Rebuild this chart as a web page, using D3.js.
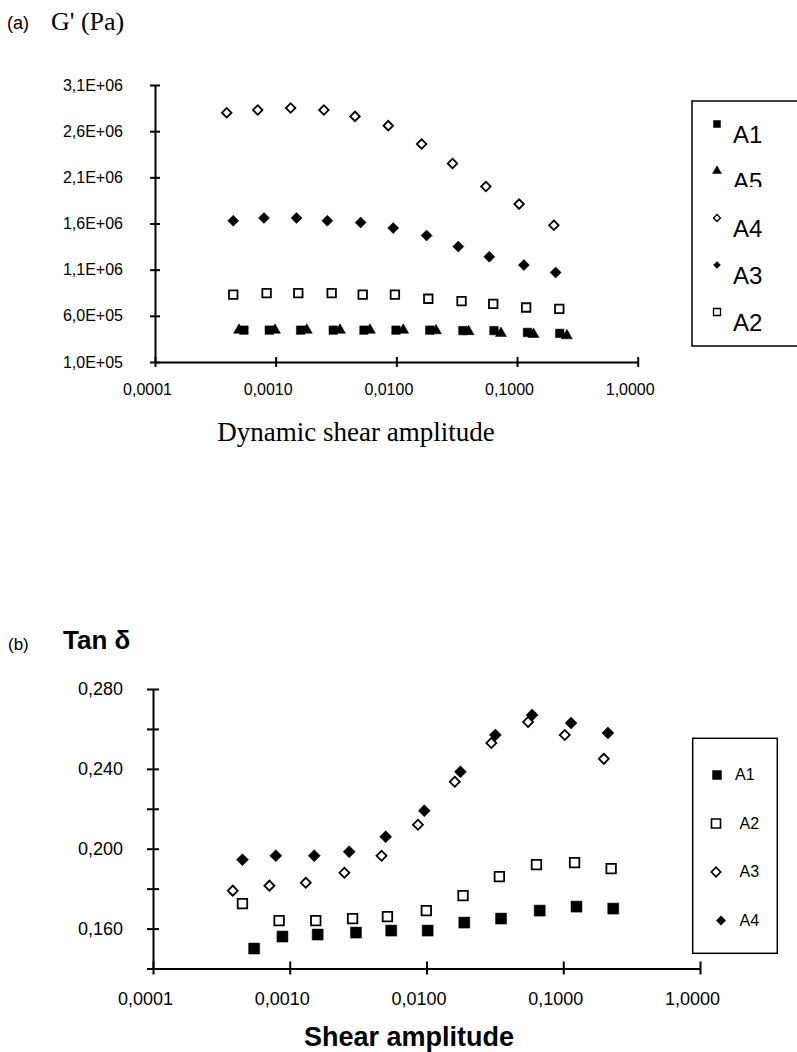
<!DOCTYPE html>
<html>

<head>
    <title>G' and Tan delta vs shear amplitude</title>
    <meta charset="utf-8">
    <style>
        body { margin: 0; background: #fff; }
        svg text { font-family: "Liberation Sans", Arial, sans-serif; fill: #000; }
        .serif { font-family: "Liberation Serif", "Times New Roman", serif; }
    </style>
</head>
<script src="https://cdn.jsdelivr.net/npm/d3@7"></script>

<body>
    <div id="chart"></div>
<script>
    // ---- data ----
    // (a) G' (Pa)
    const xDecades = [0.0001, 0.001, 0.01, 0.1, 1];
    const xTickLabels = ["0,0001", "0,0010", "0,0100", "0,1000", "1,0000"];

    const gTicks = [1e5, 6e5, 1.1e6, 1.6e6, 2.1e6, 2.6e6, 3.1e6];
    const gTickLabels = ["1,0E+05", "6,0E+05", "1,1E+06", "1,6E+06", "2,1E+06", "2,6E+06", "3,1E+06"];

    const gA1x = [5.46e-4, 8.85e-4, 1.61e-3, 3.0e-3, 5.39e-3, 9.93e-3, 1.89e-2, 3.56e-2, 6.44e-2, 0.122, 0.226];
    const gA1y = [4.45e5, 4.45e5, 4.45e5, 4.45e5, 4.45e5, 4.45e5, 4.45e5, 4.4e5, 4.4e5, 4.2e5, 4.1e5];
    const gA5x = [4.97e-4, 9.86e-4, 1.81e-3, 3.41e-3, 6.04e-3, 1.14e-2, 2.13e-2, 3.97e-2, 7.36e-2, 0.137, 0.259];
    const gA5y = [4.45e5, 4.45e5, 4.45e5, 4.45e5, 4.45e5, 4.45e5, 4.4e5, 4.3e5, 4.1e5, 4.0e5, 3.85e5];
    const gA4x = [3.93e-4, 7.10e-4, 1.33e-3, 2.51e-3, 4.54e-3, 8.57e-3, 1.62e-2, 2.92e-2, 5.52e-2, 0.104, 0.202];
    const gA4y = [2.80e6, 2.83e6, 2.85e6, 2.83e6, 2.76e6, 2.66e6, 2.46e6, 2.25e6, 2.0e6, 1.81e6, 1.58e6];
    const gA3x = [4.45e-4, 8.0e-4, 1.49e-3, 2.68e-3, 5.06e-3, 9.42e-3, 1.78e-2, 3.26e-2, 5.89e-2, 0.114, 0.209];
    const gA3y = [1.63e6, 1.66e6, 1.66e6, 1.63e6, 1.61e6, 1.55e6, 1.47e6, 1.35e6, 1.24e6, 1.15e6, 1.07e6];
    const gA2x = [4.45e-4, 8.41e-4, 1.54e-3, 2.91e-3, 5.26e-3, 9.73e-3, 1.84e-2, 3.47e-2, 6.35e-2, 0.119, 0.224];
    const gA2y = [8.3e5, 8.45e5, 8.45e5, 8.45e5, 8.3e5, 8.3e5, 7.85e5, 7.6e5, 7.3e5, 6.9e5, 6.75e5];

    // (b) Tan delta
    const tTicks = [0.14, 0.16, 0.18, 0.20, 0.22, 0.24, 0.26, 0.28];
    const tTickLabels = ["", "0,160", "", "0,200", "", "0,240", "", "0,280"];

    const tA1x = [5.49e-4, 8.84e-4, 1.6e-3, 3.05e-3, 5.52e-3, 1.02e-2, 1.89e-2, 3.51e-2, 6.73e-2, 0.125, 0.232];
    const tA1y = [0.150, 0.156, 0.157, 0.158, 0.159, 0.159, 0.163, 0.165, 0.169, 0.171, 0.170];
    const tA2x = [4.51e-4, 8.36e-4, 1.55e-3, 2.88e-3, 5.18e-3, 9.97e-3, 1.85e-2, 3.41e-2, 6.37e-2, 0.121, 0.224];
    const tA2y = [0.1725, 0.164, 0.164, 0.165, 0.166, 0.169, 0.1765, 0.186, 0.192, 0.193, 0.190];
    const tA3x = [3.83e-4, 7.1e-4, 1.31e-3, 2.51e-3, 4.69e-3, 8.66e-3, 1.61e-2, 2.98e-2, 5.53e-2, 0.1026, 0.198];
    const tA3y = [0.179, 0.1815, 0.183, 0.188, 0.1965, 0.212, 0.2335, 0.253, 0.2635, 0.257, 0.245];
    const tA4x = [4.51e-4, 7.91e-4, 1.51e-3, 2.72e-3, 5.03e-3, 9.64e-3, 1.77e-2, 3.19e-2, 5.92e-2, 0.114, 0.212];
    const tA4y = [0.1945, 0.1965, 0.1965, 0.1985, 0.206, 0.219, 0.2385, 0.257, 0.267, 0.263, 0.258];

    // ---- drawing ----
    const svg = d3.select("#chart").append("svg")
        .attr("width", 797)
        .attr("height", 1052);

    // marker shapes
    function markerPath(kind, w) {
        if (kind === "tri") return d3.symbol(d3.symbolTriangle, Math.sqrt(3) / 4 * w * w)();
        if (kind === "dia") return d3.symbol(d3.symbolSquare, (w * w) / 2)();
        return d3.symbol(d3.symbolSquare, w * w)();
    }

    function drawMarkers(g, xs, ys, x, y, kind, filled, w) {
        const pts = xs.map((v, i) => ({ x: v, y: ys[i] }));
        g.append("g").selectAll("path")
            .data(pts)
            .join("path")
            .attr("d", markerPath(kind, w))
            .attr("transform", d => "translate(" + x(d.x) + "," + y(d.y) + ")" + (kind === "dia" ? " rotate(45)" : ""))
            .attr("fill", filled ? "#000" : "#fff")
            .attr("stroke", "#000")
            .attr("stroke-width", filled ? 0.5 : 1.8);
    }

    function crossTicks(sel, horiz, a, b) {
        sel.selectAll(".tick line")
            .attr(horiz ? "y1" : "x1", a)
            .attr(horiz ? "y2" : "x2", b)
            .attr("stroke-width", 2);
        sel.select(".domain").attr("stroke-width", 2);
    }

    // ===== (a) =====
    svg.append("text").attr("x", 7).attr("y", 29).style("font-size", "18px").text("(a)");
    svg.append("text").attr("class", "serif").attr("x", 51).attr("y", 30)
        .style("font-size", "26px").text("G' (Pa)");

    const xa = d3.scaleLog().domain([0.0001, 1]).range([155, 637.7]);
    const ya = d3.scaleLinear().domain([1e5, 3.1e6]).range([362, 85]);

    const xAxisA = svg.append("g")
        .attr("transform", "translate(0,362)")
        .call(d3.axisBottom(xa).tickValues(xDecades).tickSize(0).tickPadding(22)
            .tickFormat((d, i) => xTickLabels[i]));
    crossTicks(xAxisA, true, -5, 5);
    xAxisA.selectAll("text").attr("dx", -8).style("font-size", "16px").attr("fill", "#000");

    const yAxisA = svg.append("g")
        .attr("transform", "translate(155,0)")
        .call(d3.axisLeft(ya).tickValues(gTicks).tickSize(0).tickPadding(32)
            .tickFormat((d, i) => gTickLabels[i]));
    crossTicks(yAxisA, false, -5, 5);
    yAxisA.selectAll("text").style("font-size", "16px").attr("fill", "#000");

    svg.append("text").attr("class", "serif")
        .attr("x", 356).attr("y", 441)
        .attr("text-anchor", "middle")
        .style("font-size", "27px")
        .text("Dynamic shear amplitude");

    const plotA = svg.append("g");
    drawMarkers(plotA, gA4x, gA4y, xa, ya, "dia", false, 9.5);
    drawMarkers(plotA, gA3x, gA3y, xa, ya, "dia", true, 11);
    drawMarkers(plotA, gA2x, gA2y, xa, ya, "sq", false, 8.5);
    drawMarkers(plotA, gA5x, gA5y, xa, ya, "tri", true, 11);
    drawMarkers(plotA, gA1x, gA1y, xa, ya, "sq", true, 8.5);

    // legend (a)
    const legA = [
        { name: "A1", kind: "sq", filled: true },
        { name: "A5", kind: "tri", filled: true },
        { name: "A4", kind: "dia", filled: false },
        { name: "A3", kind: "dia", filled: true },
        { name: "A2", kind: "sq", filled: false }
    ];
    svg.append("rect")
        .attr("x", 692).attr("y", 101)
        .attr("width", 120).attr("height", 245)
        .attr("fill", "none").attr("stroke", "#000").attr("stroke-width", 1.5);
    svg.append("clipPath").attr("id", "clipA5")
        .append("rect").attr("x", 700).attr("y", 150).attr("width", 90).attr("height", 37);
    legA.forEach((d, i) => {
        const base = 143 + i * 47;
        svg.append("path")
            .attr("d", markerPath(d.kind, d.kind === "tri" ? 9 : 7))
            .attr("transform", "translate(717," + (base - 19) + ")" + (d.kind === "dia" ? " rotate(45)" : ""))
            .attr("fill", d.filled ? "#000" : "#fff")
            .attr("stroke", "#000")
            .attr("stroke-width", d.filled ? 0.5 : 1.3);
        const t = svg.append("text")
            .attr("x", 733).attr("y", base)
            .style("font-size", "24px")
            .text(d.name);
        if (d.name === "A5") t.attr("clip-path", "url(#clipA5)");
    });

    // ===== (b) =====
    svg.append("text").attr("x", 8).attr("y", 650).style("font-size", "17px").text("(b)");
    svg.append("text").attr("x", 63).attr("y", 649)
        .style("font-size", "26px").style("font-weight", "bold").text("Tan δ");

    const xb = d3.scaleLog().domain([0.0001, 1]).range([153, 700]);
    const yb = d3.scaleLinear().domain([0.14, 0.28]).range([968.5, 689]);

    const xAxisB = svg.append("g")
        .attr("transform", "translate(0,968.5)")
        .call(d3.axisBottom(xb).tickValues(xDecades).tickSize(0).tickPadding(24)
            .tickFormat((d, i) => xTickLabels[i]));
    crossTicks(xAxisB, true, -7, 6);
    xAxisB.selectAll("text").attr("dx", -8).style("font-size", "18px").attr("fill", "#000");

    const yAxisB = svg.append("g")
        .attr("transform", "translate(153,0)")
        .call(d3.axisLeft(yb).tickValues(tTicks).tickSize(0).tickPadding(30)
            .tickFormat((d, i) => tTickLabels[i]));
    crossTicks(yAxisB, false, -6, 6);
    yAxisB.selectAll("text").style("font-size", "18px").attr("fill", "#000");

    svg.append("text")
        .attr("x", 409).attr("y", 1046)
        .attr("text-anchor", "middle")
        .style("font-size", "27px").style("font-weight", "bold")
        .text("Shear amplitude");

    const plotB = svg.append("g");
    drawMarkers(plotB, tA1x, tA1y, xb, yb, "sq", true, 11);
    drawMarkers(plotB, tA2x, tA2y, xb, yb, "sq", false, 9.5);
    drawMarkers(plotB, tA3x, tA3y, xb, yb, "dia", false, 10);
    drawMarkers(plotB, tA4x, tA4y, xb, yb, "dia", true, 12);

    // legend (b)
    const legB = [
        { name: "A1", kind: "sq", filled: true, mx: 717 },
        { name: "A2", kind: "sq", filled: false, mx: 716 },
        { name: "A3", kind: "dia", filled: false, mx: 716 },
        { name: "A4", kind: "dia", filled: true, mx: 721 }
    ];
    svg.append("rect")
        .attr("x", 692.7).attr("y", 738.3)
        .attr("width", 84.6).attr("height", 215)
        .attr("fill", "none").attr("stroke", "#000").attr("stroke-width", 1.5);
    legB.forEach((d, i) => {
        const base = 780 + i * 48.5;
        svg.append("path")
            .attr("d", markerPath(d.kind, d.kind === "dia" ? 9.5 : 9))
            .attr("transform", "translate(" + d.mx + "," + (base - 5) + ")" + (d.kind === "dia" ? " rotate(45)" : ""))
            .attr("fill", d.filled ? "#000" : "#fff")
            .attr("stroke", "#000")
            .attr("stroke-width", d.filled ? 0.5 : 1.6);
        svg.append("text")
            .attr("x", i === 0 ? 735 : 739.5).attr("y", base)
            .style("font-size", "16px")
            .text(d.name);
    });
</script>
</body>

</html>
